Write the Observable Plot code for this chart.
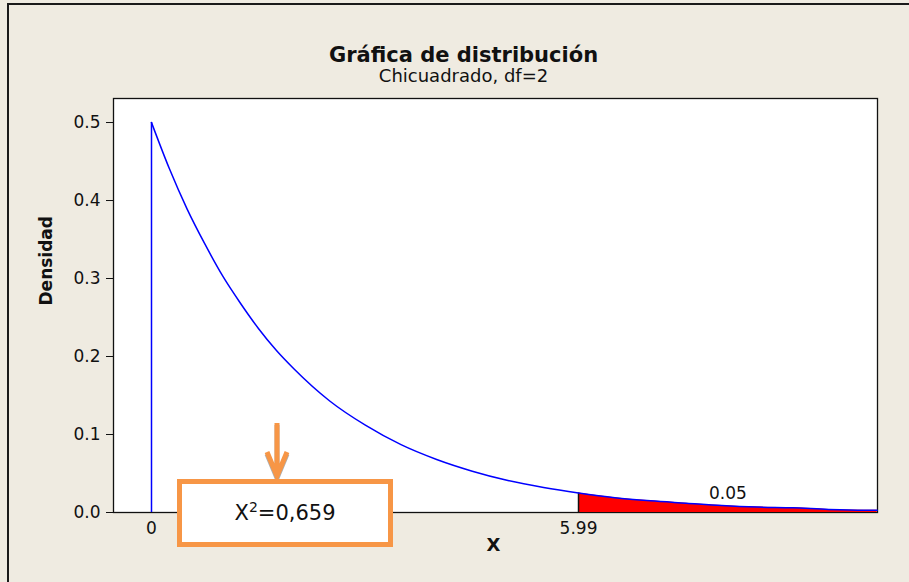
<!DOCTYPE html>
<html><head><meta charset="utf-8">
<script src="https://cdn.jsdelivr.net/npm/d3@7"></script>
<script src="https://cdn.jsdelivr.net/npm/@observablehq/plot@0.6"></script>
<style>
html,body{margin:0;padding:0;background:#EFEBE1;overflow:hidden;width:909px;height:582px;}
#wrap{position:relative;width:909px;height:582px;overflow:hidden;}
#chart svg{display:block;}
#overlay{position:absolute;left:0;top:0;}
#callout{position:absolute;left:177px;top:479px;width:216px;height:68px;box-sizing:border-box;border:5px solid #F79646;background:#fff;font-family:"DejaVu Sans",sans-serif;font-size:21px;color:#111;display:flex;align-items:center;justify-content:center;}
#callout sup{font-size:14px;vertical-align:8px;line-height:0;}
</style></head>
<body>
<div id="wrap">
  <div id="chart"></div>
  <svg id="overlay" width="909" height="582">
    <rect x="895" y="0" width="14" height="582" fill="#EFEBE1"/>
    <path d="M8,582 V4 H909" fill="none" stroke="#1a1a1a" stroke-width="2"/>
    <path d="M277,423 V473 M267,452 L277,476 L287,452" fill="none" stroke="#9a9a9a" stroke-width="5" transform="translate(0,2)" opacity="0.8"/>
    <path d="M277,423 V473 M267,452 L277,476 L287,452" fill="none" stroke="#F79646" stroke-width="5"/>
  </svg>
  <div id="callout"><span>X<sup>2</sup>=0,659</span></div>
</div>
<script>
// ---- data ----
const titleText = "Gráfica de distribución";
const subtitleText = "Chicuadrado, df=2";
const yLabel = "Densidad";
const xLabel = "X";
// chi-square (df=2) density
const densX = [0, 0.25, 0.5, 0.75, 1, 1.25, 1.5, 1.75, 2, 2.5, 3, 3.5, 4, 4.5, 5, 5.5, 5.99, 6.5, 7, 7.5, 8, 8.5, 9, 9.5, 10, 10.18];
const densY = [0.500, 0.441, 0.389, 0.344, 0.303, 0.268, 0.236, 0.208, 0.184, 0.143, 0.112, 0.087, 0.068, 0.053, 0.041, 0.032, 0.025, 0.019, 0.015, 0.012, 0.009, 0.007, 0.006, 0.004, 0.003, 0.003];
const criticalValue = 5.99;
const tailAreaLabel = "0.05";
const xTickValues = [0, 5.99];
const xTickLabels = ["0", "5.99"];
const yTickValues = [0, 0.1, 0.2, 0.3, 0.4, 0.5];
const xDomain = [-0.533, 10.184];
const yDomain = [0, 0.5308];

// ---- build ----
const curve = densX.map((x, i) => ({x, y: densY[i]}));
const tail = curve.filter(d => d.x >= criticalValue);
const start = curve.slice(0, 1);
const midX = (tail[0].x + tail[tail.length - 1].x) / 2;
const k = d3.bisector(d => d.x).left(curve, midX);
const a = curve[k - 1], b = curve[k];
const midY = a.y + (b.y - a.y) * (midX - a.x) / (b.x - a.x);
const tailLabel = [{x: midX, y: midY, text: tailAreaLabel}];

const font = "'DejaVu Sans', sans-serif";
const chart = Plot.plot({
  width: 909,
  height: 582,
  marginLeft: 113,
  marginRight: 32,
  marginTop: 98,
  marginBottom: 70,
  style: {background: "transparent", fontFamily: font, fontSize: "17px", color: "#111"},
  x: {domain: xDomain, axis: null},
  y: {domain: yDomain, axis: null},
  marks: [
    Plot.frame({fill: "white"}),
    Plot.frame({stroke: "#111", strokeWidth: 1.3}),
    Plot.axisY({ticks: yTickValues, tickFormat: d3.format(".1f"), tickSize: 7, tickPadding: 6, label: null, stroke: "#111", fontSize: 17}),
    Plot.axisX({ticks: xTickValues, tickFormat: (d) => xTickLabels[xTickValues.indexOf(d)], tickSize: 0, tickPadding: 9, label: null, fontSize: 17}),
    Plot.areaY(tail, {x: "x", y: "y", fill: "#ff0000", curve: "monotone-x"}),
    Plot.ruleX(tail.slice(0, 1), {x: "x", y1: 0, y2: "y", stroke: "#111", strokeWidth: 1.5}),
    Plot.ruleX(start, {x: "x", y1: 0, y2: "y", stroke: "#0000ff", strokeWidth: 1.5}),
    Plot.line(curve, {x: "x", y: "y", stroke: "#0000ff", strokeWidth: 1.5, curve: "monotone-x"}),
    Plot.text(tailLabel, {x: "x", y: "y", text: "text", lineAnchor: "bottom", dy: -7, fontSize: 17, fill: "#111"}),
    Plot.text([titleText], {frameAnchor: "top", dx: -32, dy: -51.7, fontSize: 21, fontWeight: "bold", fill: "#111"}),
    Plot.text([subtitleText], {frameAnchor: "top", dx: -32, dy: -28.8, fontSize: 18, fill: "#111"}),
    Plot.text([yLabel], {frameAnchor: "left", dx: -67, rotate: -90, fontSize: 17, fontWeight: "bold", fill: "#111"}),
    Plot.text([xLabel], {frameAnchor: "bottom", dx: -2, dy: 38, fontSize: 18, fontWeight: "bold", fill: "#111"})
  ]
});
document.getElementById("chart").appendChild(chart);
</script>
</body></html>
